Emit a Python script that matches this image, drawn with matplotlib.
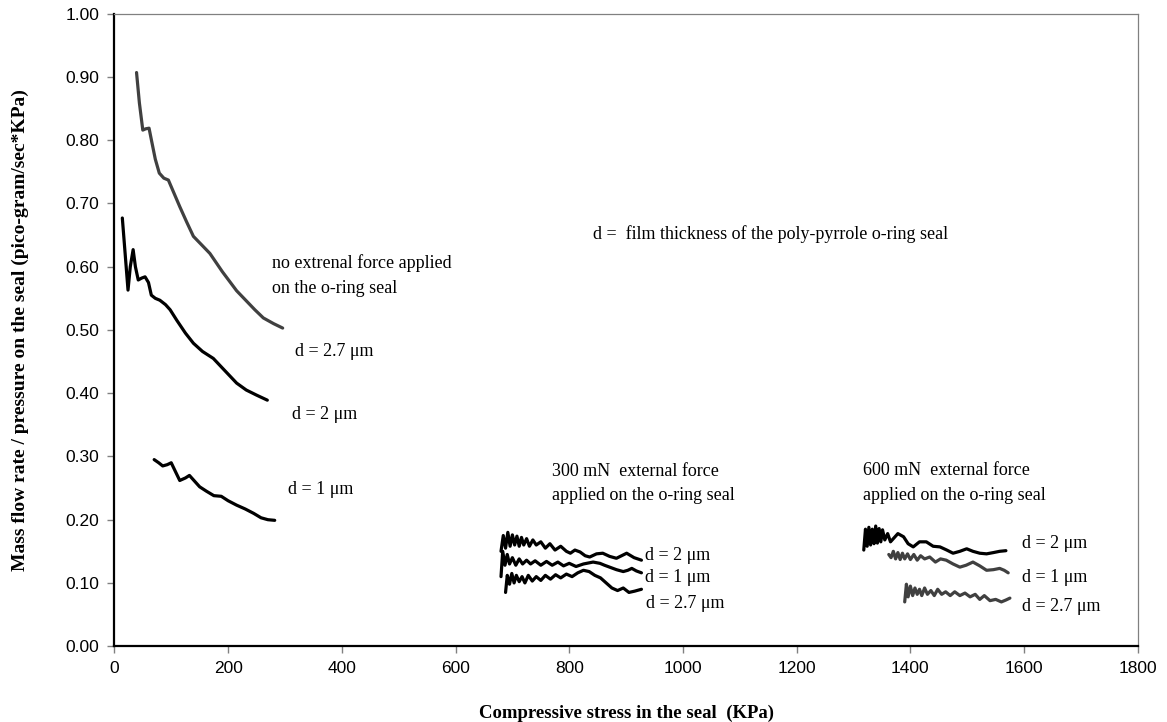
import matplotlib.pyplot as plt

plt.rcParams["font.family"] = ["Liberation Sans", "DejaVu Sans"]

# --- no external force ---
x_nf_27 = [39, 44, 50, 55, 61, 65, 72, 79, 87, 95, 105, 115, 127, 139, 153, 168, 190, 215, 247, 262, 280, 296]
y_nf_27 = [0.907, 0.859, 0.816, 0.818, 0.819, 0.801, 0.770, 0.748, 0.740, 0.737, 0.716, 0.695,
           0.671, 0.648, 0.635, 0.621, 0.592, 0.562, 0.532, 0.519, 0.510, 0.503]

x_nf_2 = [14, 19, 24, 28, 33, 37, 42, 48, 54, 60, 65, 72, 80, 90, 98, 110, 125, 139, 155, 174,
          195, 215, 232, 250, 269]
y_nf_2 = [0.677, 0.620, 0.563, 0.600, 0.627, 0.600, 0.579, 0.582, 0.584, 0.575, 0.555, 0.550,
          0.547, 0.540, 0.532, 0.515, 0.495, 0.479, 0.466, 0.455, 0.435, 0.416, 0.405, 0.397, 0.389]

x_nf_1 = [70, 78, 85, 93, 100, 108, 115, 125, 132, 140, 150, 162, 175, 188, 200, 215, 230, 245,
          258, 270, 282]
y_nf_1 = [0.295, 0.290, 0.285, 0.287, 0.290, 0.275, 0.262, 0.266, 0.270, 0.262, 0.252, 0.245,
          0.238, 0.237, 0.230, 0.223, 0.217, 0.210, 0.203, 0.200, 0.199]

# --- 300 mN ---
x_300_2 = [680, 684, 688, 692, 696, 700, 704, 708, 712, 716, 720, 725, 730, 736, 742, 750, 758,
           766, 775, 785, 795, 802, 810, 819, 828, 836, 848, 859, 871, 883, 892, 901, 914, 927]
y_300_2 = [0.150, 0.175, 0.155, 0.180, 0.158, 0.176, 0.160, 0.174, 0.158, 0.172, 0.160, 0.170,
           0.158, 0.168, 0.160, 0.165, 0.155, 0.162, 0.152, 0.158, 0.150, 0.147, 0.152, 0.149,
           0.143, 0.141, 0.146, 0.147, 0.142, 0.139, 0.143, 0.147, 0.140, 0.136]

x_300_1 = [680, 683, 687, 691, 695, 700, 706, 712, 718, 725, 732, 740, 750, 760, 770, 780, 790,
           800, 812, 825, 842, 854, 862, 871, 883, 895, 903, 910, 918, 927]
y_300_1 = [0.110, 0.150, 0.128, 0.145, 0.130, 0.140, 0.128, 0.138, 0.130, 0.136, 0.130, 0.135,
           0.128, 0.134, 0.128, 0.133, 0.127, 0.131, 0.126, 0.130, 0.133, 0.131, 0.128, 0.125,
           0.121, 0.118, 0.120, 0.123, 0.119, 0.116]

x_300_27 = [688, 691, 695, 699, 703, 707, 712, 717, 722, 728, 735, 742, 750, 758, 767, 776, 785,
            795, 805, 815, 825, 835, 845, 855, 865, 875, 885, 895, 905, 915, 927]
y_300_27 = [0.085, 0.112, 0.098, 0.115, 0.100, 0.112, 0.102, 0.110, 0.100, 0.112, 0.103, 0.110,
            0.104, 0.112, 0.106, 0.113, 0.108, 0.114, 0.110, 0.116, 0.120, 0.118, 0.112, 0.108,
            0.100, 0.092, 0.088, 0.092, 0.085, 0.087, 0.090]

# --- 600 mN ---
x_600_2 = [1318, 1321, 1324, 1327, 1330, 1333, 1336, 1339, 1342, 1345, 1348, 1351, 1355, 1360,
           1365, 1370, 1378, 1388, 1396, 1405, 1416, 1428, 1440, 1452, 1464, 1475, 1487, 1499,
           1510, 1522, 1534, 1546, 1557, 1568]
y_600_2 = [0.152, 0.185, 0.158, 0.188, 0.160, 0.185, 0.162, 0.190, 0.163, 0.186, 0.165, 0.184,
           0.168, 0.178, 0.165, 0.170, 0.178, 0.173, 0.162, 0.157, 0.165, 0.165, 0.158, 0.157,
           0.152, 0.147, 0.150, 0.154, 0.150, 0.147, 0.146, 0.148, 0.150, 0.151]

x_600_1 = [1362, 1366, 1370, 1374, 1378, 1382, 1386, 1390, 1395, 1400, 1406, 1412, 1418, 1425,
           1434, 1444, 1453, 1463, 1475, 1487, 1498, 1510, 1522, 1534, 1546, 1557, 1565, 1572]
y_600_1 = [0.145, 0.140, 0.150, 0.138, 0.148, 0.137, 0.147, 0.138, 0.146, 0.137, 0.145, 0.136,
           0.143, 0.138, 0.141, 0.133, 0.138, 0.136, 0.130, 0.125, 0.128, 0.133, 0.127, 0.120,
           0.121, 0.123, 0.120, 0.116]

x_600_27 = [1390, 1393, 1396, 1400, 1404, 1408, 1412, 1416, 1420, 1425, 1430, 1436, 1442, 1448,
            1455, 1462, 1470, 1478, 1487, 1496, 1505, 1514, 1522, 1530, 1540, 1550, 1560, 1568, 1575]
y_600_27 = [0.070, 0.098, 0.078, 0.095, 0.080, 0.092, 0.082, 0.090, 0.080, 0.092, 0.082, 0.088,
            0.080, 0.090, 0.082, 0.086, 0.080, 0.086, 0.080, 0.084, 0.078, 0.082, 0.074, 0.080,
            0.072, 0.074, 0.070, 0.073, 0.076]

x_ticks = [0, 200, 400, 600, 800, 1000, 1200, 1400, 1600, 1800]
y_ticks = [0.0, 0.1, 0.2, 0.3, 0.4, 0.5, 0.6, 0.7, 0.8, 0.9, 1.0]

black = "#000000"
gray = "#404040"

fig = plt.figure(figsize=(11.67, 7.22), dpi=100)
ax = fig.add_axes([0.098, 0.105, 0.877, 0.876])

series = [
    (x_nf_27, y_nf_27, gray), (x_nf_2, y_nf_2, black), (x_nf_1, y_nf_1, black),
    (x_300_2, y_300_2, black), (x_300_1, y_300_1, black), (x_300_27, y_300_27, black),
    (x_600_2, y_600_2, black), (x_600_1, y_600_1, gray), (x_600_27, y_600_27, gray),
]
for xs, ys, c in series:
    ax.plot(xs, ys, color=c, lw=2.3, solid_joinstyle="round", solid_capstyle="round")

ax.set_xlim(0, 1800)
ax.set_ylim(0, 1.0)
ax.set_xticks(x_ticks)
ax.set_yticks(y_ticks)
ax.set_yticklabels([f"{v:.2f}" for v in y_ticks])
ax.tick_params(direction="out", length=5, width=1, color="#808080", labelsize=12.5, pad=6)

for s in ["left", "bottom"]:
    ax.spines[s].set_color("black")
    ax.spines[s].set_linewidth(1.6)
for s in ["top", "right"]:
    ax.spines[s].set_color("#808080")
    ax.spines[s].set_linewidth(0.9)

serif = ["Liberation Serif", "DejaVu Serif"]
ax.set_xlabel("Compressive stress in the seal  (KPa)", labelpad=20,
              family=serif, fontweight="bold", fontsize=13.5)
ax.set_ylabel("Mass flow rate / pressure on the seal (pico-gram/sec*KPa)", labelpad=26,
              family=serif, fontweight="bold", fontsize=14)

txt = dict(family=serif, fontsize=13, va="center")
ax.text(278, 0.606, "no extrenal force applied", **txt)
ax.text(278, 0.566, "on the o-ring seal", **txt)
ax.text(317, 0.466, "d = 2.7 \u03bcm", **txt)
ax.text(312, 0.366, "d = 2 \u03bcm", **txt)
ax.text(305, 0.247, "d = 1 \u03bcm", **txt)
ax.text(842, 0.652, "d =  film thickness of the poly-pyrrole o-ring seal", **txt)

ax.text(770, 0.276, "300 mN  external force", **txt)
ax.text(770, 0.239, "applied on the o-ring seal", **txt)
ax.text(933, 0.144, "d = 2 \u03bcm", **txt)
ax.text(933, 0.109, "d = 1 \u03bcm", **txt)
ax.text(935, 0.068, "d = 2.7 \u03bcm", **txt)

ax.text(1317, 0.277, "600 mN  external force", **txt)
ax.text(1317, 0.239, "applied on the o-ring seal", **txt)
ax.text(1596, 0.163, "d = 2 \u03bcm", **txt)
ax.text(1596, 0.109, "d = 1 \u03bcm", **txt)
ax.text(1596, 0.062, "d = 2.7 \u03bcm", **txt)

fig.savefig("out.png", dpi=100)
